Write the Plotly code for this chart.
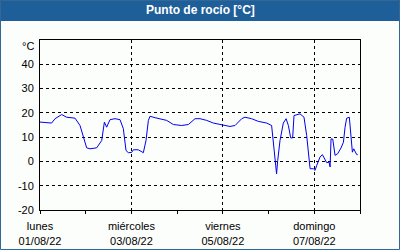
import plotly.graph_objects as go
import pandas as pd

# hours since 2022-08-01 00:00
hours = [0, 6.1, 7.9, 11.4, 14, 18.4, 21, 22.75, 24.5, 26.25, 29.75, 32.4, 33.8, 35, 36.75,
         39.4, 42, 43.75, 45.15, 46.4, 48.1, 49, 51.6, 54.25, 55.65, 56.9, 57.75, 60.4, 63.9,
         66.5, 70, 74.4, 77.9, 81.4, 84, 87.5, 91, 95.4, 99.75, 102.4, 105.9, 107.6, 111.1,
         114.6, 119, 121.6, 122.5, 123.4, 124.2, 124.8, 126, 127.75, 129.2, 130.4, 131.6,
         132.65, 133.35, 136.5, 138.6, 140, 141.3, 141.8, 143.5, 144.4, 145.3, 147, 148.25,
         149.65, 150.5, 151.75, 152.3, 152.8, 153.7, 154.9, 156.3, 158, 159.3, 160.15, 161,
         162.4, 163.3, 164, 164.7, 165.4, 166.3, 166.8]
values = [16.2, 15.8, 17.6, 19.3, 18.2, 17.8, 14.8, 10, 5.6, 5.2, 5.6, 8.6, 16.2, 14.1, 17.2,
          17.6, 17.2, 13.5, 4.5, 3.6, 3.7, 4.8, 4.8, 3.6, 8.6, 16.9, 18.6, 18.0, 17.5,
          16.9, 15.2, 14.8, 15.2, 17.6, 17.6, 16.9, 15.8, 15.2, 14.4, 14.8, 17.6, 18.2, 17.6,
          16.5, 15.8, 14.8, 8.6, 0.4, -5.1, 0.4, 8.6, 15.8, 17.6, 14.8, 9.7,
          9.7, 18.9, 19.6, 18.2, 10.7, 1.8, -3.0, -3.0, -3.7, -1.6, 1.8, 2.8,
          1.1, -0.5, -0.3, -2.3, 9.3, 9.2, 2.5, 3.2, 5.5, 7.9, 14.1, 17.8,
          18.2, 10.7, 3.8, 5.2, 3.8, 2.8, 2.8]

tick_dates = ["2022-08-01", "2022-08-03", "2022-08-05", "2022-08-07"]
tick_days = ["lunes", "miércoles", "viernes", "domingo"]
tick_labels = ["01/08/22", "03/08/22", "05/08/22", "07/08/22"]
y_ticks = [-20, -10, 0, 10, 20, 30, 40]

start = pd.Timestamp("2022-08-01")
times = [start + pd.Timedelta(hours=h) for h in hours]

fig = go.Figure()
fig.add_trace(go.Scatter(x=times, y=values, mode="lines",
                         line=dict(color="#0000ee", width=1), hoverinfo="skip"))

W, H = 400, 250
L, R, T, B = 40, 40, 40, 40
pw, ph = W - L - R, H - T - B

def px(x):
    return (x - L) / pw

def py(y):
    return (H - B - y) / ph

fig.update_layout(
    width=W, height=H,
    margin=dict(l=L, r=R, t=T, b=B, pad=0),
    paper_bgcolor="#fcfefc", plot_bgcolor="#fcfefc",
    showlegend=False,
    font=dict(family="Liberation Sans, Arial, sans-serif", size=11, color="#000000"),
    shapes=[
        dict(type="rect", xref="paper", yref="paper", x0=px(0), x1=px(400), y0=py(0), y1=py(21),
             fillcolor="#1f5f99", line=dict(width=0), layer="above"),
        dict(type="rect", xref="paper", yref="paper", x0=px(0.5), x1=px(399.5), y0=py(0.5), y1=py(249.5),
             fillcolor="rgba(0,0,0,0)", line=dict(color="#336699", width=1), layer="above"),
    ],
    annotations=[
        dict(text="<b>Punto de rocío [°C]</b>", xref="paper", yref="paper", x=0.5, y=py(10.5),
             xanchor="center", yanchor="middle", showarrow=False,
             font=dict(color="#ffffff", size=12, family="Liberation Sans, Arial, sans-serif")),
        dict(text="°C", xref="paper", yref="paper", x=px(36), y=py(46), xanchor="right",
             yanchor="middle", showarrow=False, font=dict(size=11)),
    ],
)

fig.update_xaxes(
    type="date", automargin=False,
    range=[start, start + pd.Timedelta(days=7)],
    tickmode="array",
    tickvals=tick_dates,
    ticktext=[f"{d}<br>{l}" for d, l in zip(tick_days, tick_labels)],
    ticks="outside", ticklen=3, tickcolor="#000000", ticklabelstandoff=3,
    minor=dict(dtick=86400000, tick0="2022-08-01", ticks="outside", ticklen=3,
               tickcolor="#000000", showgrid=False),
    showgrid=True, gridcolor="#000000", griddash="3px,3px", gridwidth=1,
    showline=True, linecolor="#000000", linewidth=1, mirror=True,
    zeroline=False, tickangle=0,
)
fig.update_yaxes(
    automargin=False,
    range=[-20, 50],
    tickmode="array", tickvals=y_ticks, ticktext=[str(v) for v in y_ticks],
    ticks="", ticklabelstandoff=3,
    showgrid=True, gridcolor="#000000", griddash="3px,3px", gridwidth=1,
    showline=True, linecolor="#000000", linewidth=1, mirror=True,
    zeroline=False,
)

fig.write_html("out.html")
